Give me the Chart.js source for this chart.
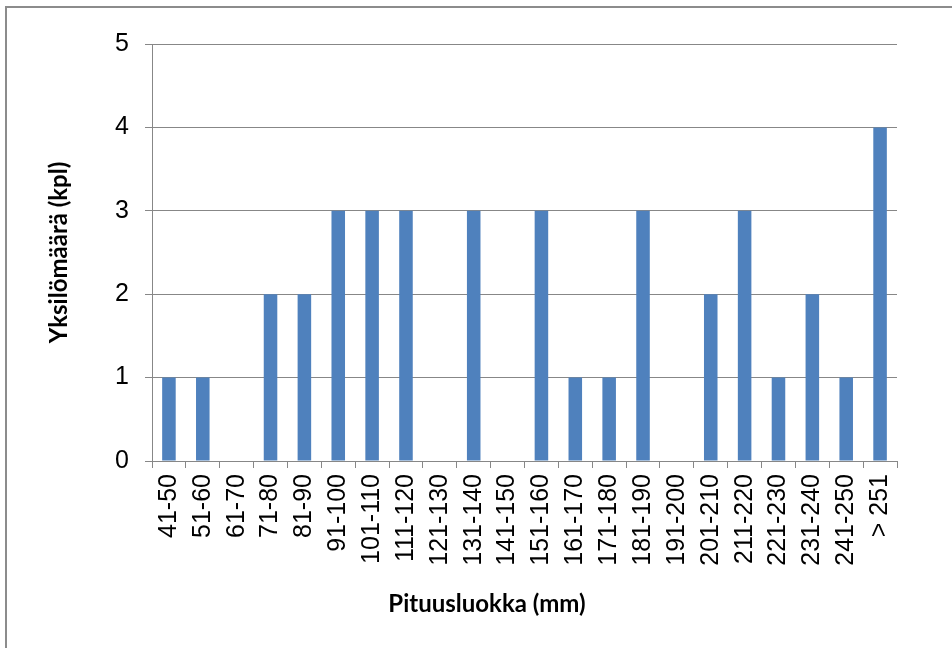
<!DOCTYPE html>
<html>
<head>
<meta charset="utf-8">
<script src="https://cdn.jsdelivr.net/npm/chart.js@4/dist/chart.umd.min.js"></script>
<style>
    html, body { margin: 0; padding: 0; background: #fff; }
    #wrap { width: 952px; height: 648px; position: relative; }
</style>
</head>
<body>
<div id="wrap"><canvas id="kaavio" width="952" height="648"></canvas></div>
<script>
// pituusluokat ja yksilömäärät
const luokat = ['41-50', '51-60', '61-70', '71-80', '81-90', '91-100', '101-110', '111-120',
    '121-130', '131-140', '141-150', '151-160', '161-170', '171-180', '181-190', '191-200',
    '201-210', '211-220', '221-230', '231-240', '241-250', '> 251'];
const maarat = [1, 1, 0, 2, 2, 3, 3, 3, 0, 3, 0, 3, 1, 1, 3, 0, 2, 3, 1, 2, 1, 4];
const yTicks = [0, 1, 2, 3, 4, 5];

const harmaa = '#878787';
const otsikkoFontti = 'bold 24px Lato';

// kehys vasemmalla ja ylhäällä + x-akselin otsikko (ei keskellä akselia)
const kehys = {
    id: 'kehys',
    beforeDraw(chart) {
        const c = chart.ctx;
        c.save();
        c.strokeStyle = '#8c8c8c';
        c.lineWidth = 2;
        c.beginPath();
        c.moveTo(6, 660);
        c.lineTo(6, 7);
        c.lineTo(960, 7);
        c.stroke();
        c.restore();
    },
    afterDraw(chart) {
        const c = chart.ctx;
        c.save();
        c.font = otsikkoFontti;
        c.fillStyle = '#000';
        c.textAlign = 'center';
        c.textBaseline = 'middle';
        c.fillText('Pituusluokka (mm)', 487, 604);
        c.restore();
    }
};

const ctx = document.getElementById('kaavio').getContext('2d');
new Chart(ctx, {
    type: 'bar',
    data: {
        labels: luokat,
        datasets: [{
            data: maarat,
            backgroundColor: '#4F81BD',
            borderWidth: 0,
            barPercentage: 0.4,
            categoryPercentage: 1.0
        }]
    },
    options: {
        responsive: false,
        animation: false,
        layout: { padding: { left: 0, top: 44, right: 55, bottom: 0 } },
        plugins: {
            legend: { display: false },
            tooltip: { enabled: false }
        },
        scales: {
            x: {
                grid: {
                    display: true,
                    drawOnChartArea: false,
                    drawTicks: true,
                    tickLength: 7,
                    offset: true,
                    color: harmaa,
                    lineWidth: 1
                },
                border: { display: true, color: harmaa, width: 1 },
                ticks: {
                    color: '#000',
                    font: { family: 'Liberation Sans', size: 25 },
                    minRotation: 90,
                    maxRotation: 90,
                    autoSkip: false,
                    padding: 6
                },
                title: { display: false },
                afterFit(scale) { scale.height = 187; }
            },
            y: {
                min: 0,
                max: 5,
                afterBuildTicks(scale) { scale.ticks = yTicks.map(v => ({ value: v })); },
                grid: {
                    color: harmaa,
                    lineWidth: 1,
                    drawTicks: true,
                    tickLength: 7
                },
                border: { display: true, color: harmaa, width: 1 },
                ticks: {
                    color: '#000',
                    font: { family: 'Liberation Sans', size: 25 },
                    padding: 16
                },
                title: {
                    display: true,
                    text: 'Yksilömäärä (kpl)',
                    color: '#000',
                    font: { family: 'Lato', size: 24, weight: 'bold' },
                    padding: { top: 45, bottom: 0 }
                },
                afterFit(scale) { scale.width = 152; }
            }
        }
    },
    plugins: [kehys]
});
</script>
</body>
</html>
